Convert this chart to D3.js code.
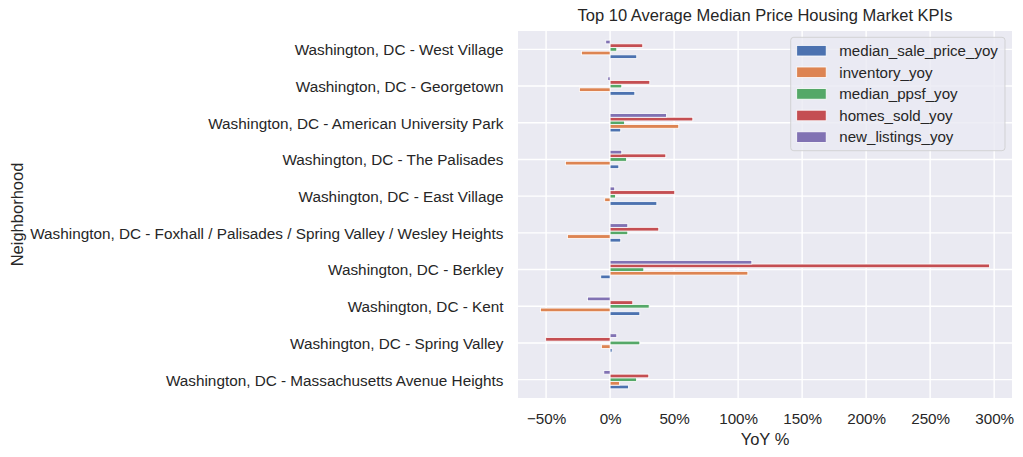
<!DOCTYPE html>
<html><head><meta charset="utf-8">
<script src="https://cdn.jsdelivr.net/npm/d3@7"></script>
<style>
html,body{margin:0;padding:0;background:#fff;}
svg{display:block;font-family:"Liberation Sans",Arial,sans-serif;}
</style></head>
<body>
<svg id="chart" width="1023" height="457"></svg>
<script>
// Categories, top to bottom as displayed
const categories = [
  "Washington, DC - West Village",
  "Washington, DC - Georgetown",
  "Washington, DC - American University Park",
  "Washington, DC - The Palisades",
  "Washington, DC - East Village",
  "Washington, DC - Foxhall / Palisades / Spring Valley / Wesley Heights",
  "Washington, DC - Berkley",
  "Washington, DC - Kent",
  "Washington, DC - Spring Valley",
  "Washington, DC - Massachusetts Avenue Heights"
];
const seriesNames = ["median_sale_price_yoy","inventory_yoy","median_ppsf_yoy","homes_sold_yoy","new_listings_yoy"];
const medianSalePriceYoy = [20.8, 19.3, 8.3, 6.8, 36.5, 8.3, -7.3, 23.2, 1.6, 14.3];
const inventoryYoy       = [-22.4, -24.0, 53.6, -34.9, -4.2, -33.3, 107.6, -54.4, -6.8, 7.3];
const medianPpsfYoy      = [5.2, 9.1, 11.2, 12.8, 4.2, 13.8, 26.3, 30.5, 23.2, 20.6];
const homesSoldYoy       = [25.5, 31.0, 64.6, 43.5, 50.5, 38.0, 296.4, 17.7, -50.3, 30.2];
const newListingsYoy     = [-3.4, -1.8, 44.0, 9.1, 3.6, 13.8, 110.7, -17.7, 5.2, -4.9];
const xTicks = [-50, 0, 50, 100, 150, 200, 250, 300];
const seriesValues = [medianSalePriceYoy, inventoryYoy, medianPpsfYoy, homesSoldYoy, newListingsYoy];
const colors = ["#4C72B0","#DD8452","#55A868","#C44E52","#8172B3"];

const svg = d3.select("#chart");
const L = 518, R = 1012, T = 31, B = 398;
const textColor = "#262626";

const allVals = seriesValues.flat();
const mn = d3.min(allVals), mx = d3.max(allVals);
const pad = (mx - mn) * 0.05;
const x = d3.scaleLinear().domain([mn - pad, mx + pad]).range([L, R]);
const n = categories.length;
// position k: 0 = bottom category
const y = d3.scaleLinear().domain([-0.5, n - 0.5]).range([B, T]);
const posOf = i => n - 1 - i;

svg.append("rect").attr("x", L).attr("y", T).attr("width", R - L).attr("height", B - T).attr("fill", "#EAEAF2");

// grid
const g = svg.append("g");
g.selectAll(".vg").data(xTicks).enter().append("line")
  .attr("x1", d => x(d)).attr("x2", d => x(d)).attr("y1", T).attr("y2", B)
  .attr("stroke", "#fff").attr("stroke-width", 1.4);
g.selectAll(".hg").data(categories).enter().append("line")
  .attr("x1", L).attr("x2", R).attr("y1", (d, i) => y(posOf(i))).attr("y2", (d, i) => y(posOf(i)))
  .attr("stroke", "#fff").attr("stroke-width", 1.4);

// bars
const barW = 0.1;
seriesValues.forEach((vals, j) => {
  svg.append("g").selectAll("rect").data(vals).enter().append("rect")
    .attr("x", d => x(Math.min(0, d)))
    .attr("width", d => Math.abs(x(d) - x(0)))
    .attr("y", (d, i) => y(posOf(i) - 0.2 + j * barW + barW / 2))
    .attr("height", (d, i) => y(posOf(i) - 0.2 + j * barW - barW / 2) - y(posOf(i) - 0.2 + j * barW + barW / 2))
    .attr("fill", colors[j]).attr("stroke", "#fff").attr("stroke-width", 0.8);
});

// x axis
const xAxis = d3.axisBottom(x).tickValues(xTicks).tickSize(0).tickPadding(0)
  .tickFormat(d => d3.format("d")(d) + "%");
const xa = svg.append("g").attr("transform", `translate(0,${B})`).call(xAxis);
xa.select(".domain").remove();
xa.selectAll("text").attr("y", 26.3).attr("dy", null).attr("fill", textColor)
  .style("font-size", "15.2px").style("font-family", '"Liberation Sans",Arial,sans-serif');

// y axis
const yAxis = d3.axisLeft(y).tickValues(d3.range(n)).tickSize(0).tickPadding(14.5)
  .tickFormat(k => categories[n - 1 - k]);
const ya = svg.append("g").attr("transform", `translate(${L},0)`).call(yAxis);
ya.select(".domain").remove();
ya.selectAll("text").attr("dy", "0.35em").attr("fill", textColor)
  .style("font-size", "15.3px").style("font-family", '"Liberation Sans",Arial,sans-serif');

// title & labels
svg.append("text").attr("x", (L + R) / 2).attr("y", 20.5).attr("text-anchor", "middle")
  .attr("fill", textColor).style("font-size", "16.5px").text("Top 10 Average Median Price Housing Market KPIs");
svg.append("text").attr("x", (L + R) / 2).attr("y", 445).attr("text-anchor", "middle")
  .attr("fill", textColor).style("font-size", "16.5px").text("YoY %");
svg.append("text").attr("transform", `translate(23,${(T + B) / 2}) rotate(-90)`).attr("text-anchor", "middle")
  .attr("fill", textColor).style("font-size", "16.5px").text("Neighborhood");

// legend
const lg = svg.append("g");
lg.append("rect").attr("x", 790.7).attr("y", 37.3).attr("width", 214.3).attr("height", 113.4)
  .attr("rx", 3).attr("fill", "#EAEAF2").attr("fill-opacity", 0.8)
  .attr("stroke", "#cccccc").attr("stroke-opacity", 0.8).attr("stroke-width", 1);
seriesNames.forEach((s, j) => {
  const cy = 50.7 + j * 21.6;
  lg.append("rect").attr("x", 796.7).attr("y", cy - 5.3).attr("width", 29.5).attr("height", 10.6)
    .attr("fill", colors[j]).attr("stroke", "#fff").attr("stroke-width", 0.8);
  lg.append("text").attr("x", 839.3).attr("y", cy).attr("dy", "0.35em").attr("fill", textColor)
    .style("font-size", "15.1px").text(s);
});
</script>
</body></html>
